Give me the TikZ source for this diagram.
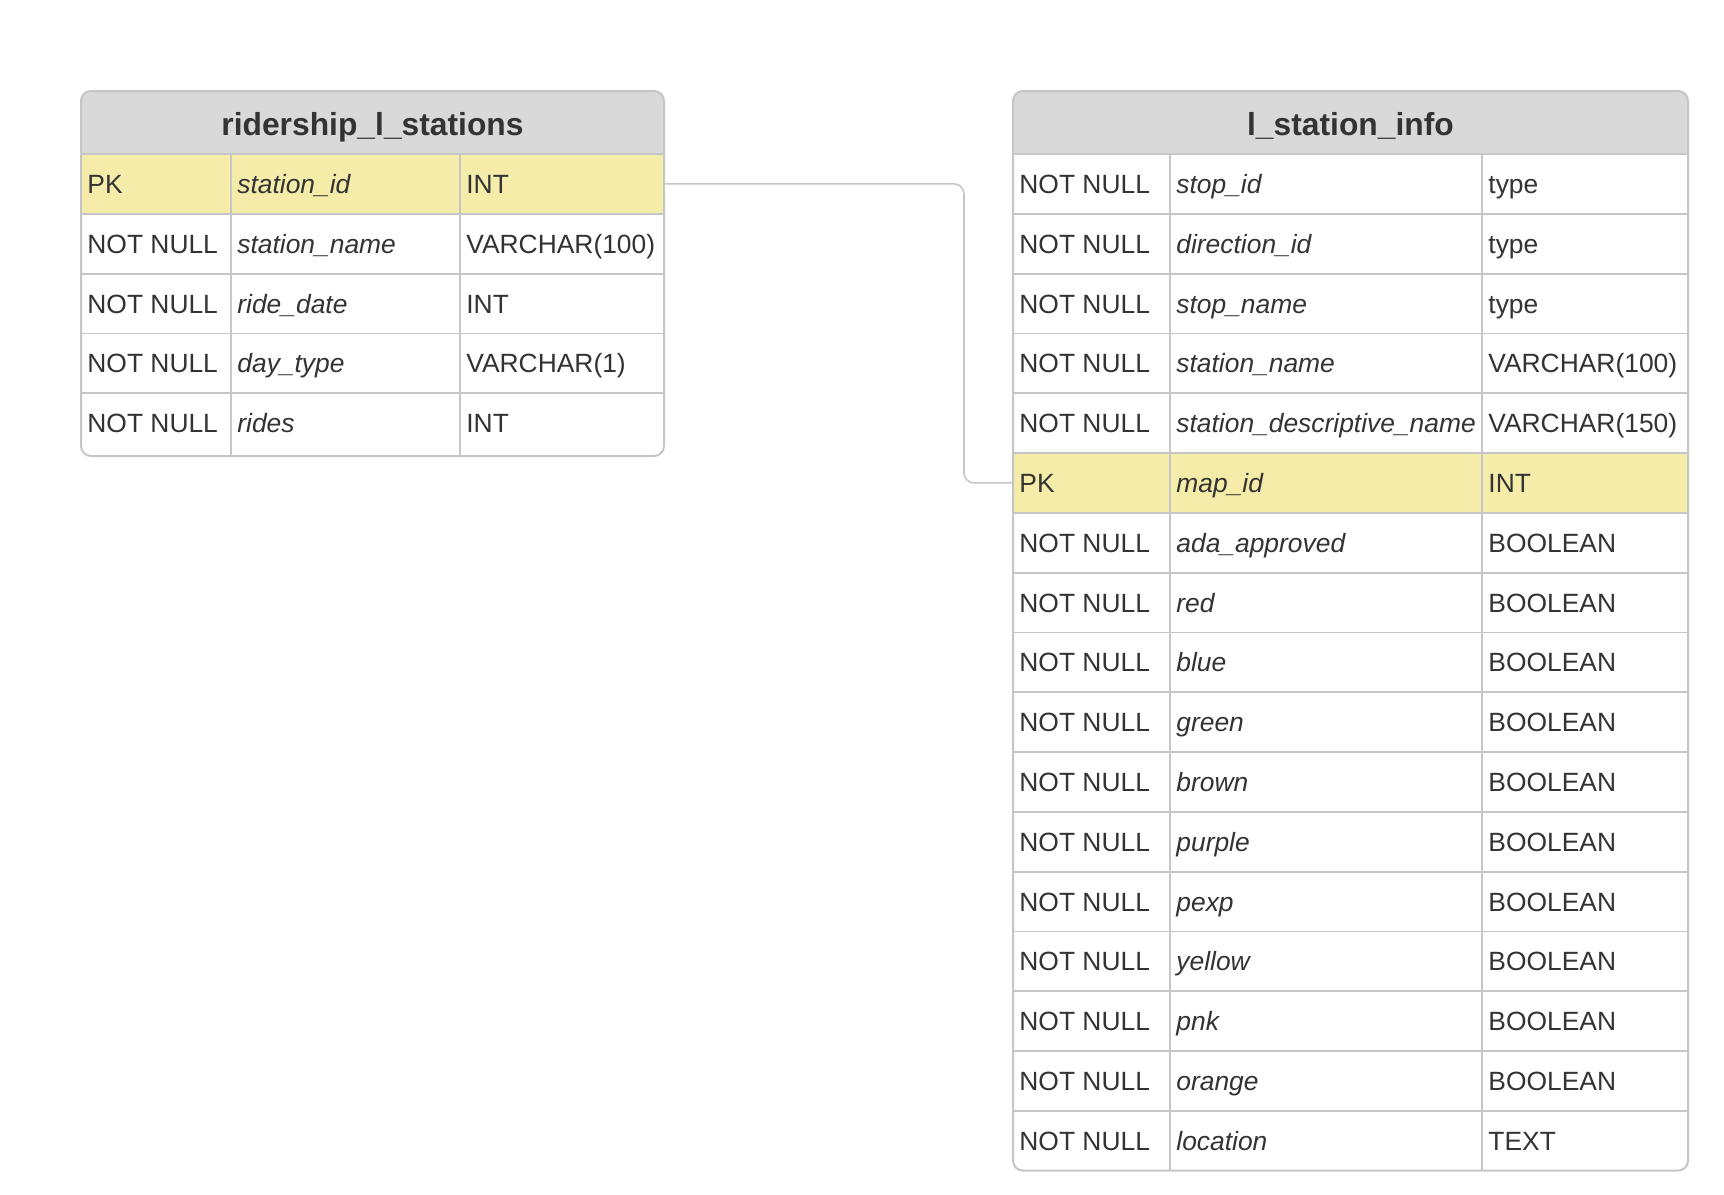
\documentclass[tikz,border=0pt]{standalone}
\usepackage{fontspec}
\setmainfont{Liberation Sans}
\usepackage{tikz}
\usepackage{xcolor}
\usetikzlibrary{positioning}
\definecolor{hdgray}{HTML}{D9D9D9}
\definecolor{pkyel}{HTML}{F5ECA9}
\definecolor{linegray}{HTML}{C6C6C6}
\definecolor{txt}{HTML}{333333}
\tikzset{
    tbl/.style={draw=linegray, line width=1pt, rounded corners=5pt},
    grid/.style={draw=linegray, line width=0.9pt},
    link/.style={draw=linegray, line width=0.8pt, rounded corners=5pt},
    rowbox/.style={minimum height=29.9pt, inner sep=0pt, outer sep=0pt},
    cell/.style={anchor=west, inner sep=3pt, text=txt, text height=9.5pt, text depth=0pt,
        font=\fontsize{13.2}{15}\selectfont},
    ttl/.style={text=txt, inner sep=0pt, text height=11.4pt, text depth=0pt,
        font=\fontsize{15.9}{18}\selectfont\bfseries}
}

\begin{document}
\begin{tikzpicture}[x=1pt, y=-1pt]
    \useasboundingbox (0,0) rectangle (862,597);
    % ridership table
    \begin{scope}
        \clip[rounded corners=5pt] (40.5,45.5) rectangle (332,228);
        \fill[hdgray] (40.5,45.5) rectangle (332,77);
    \end{scope}
    \node[ttl] (tl) at (186.25,61.8) {ridership\_l\_stations};
    \foreach \rf/\k/\cname/\ctype [count=\i] in {
            pkyel/PK/station\_id/INT,
            white/NOT NULL/station\_name/VARCHAR(100),
            white/NOT NULL/ride\_date/INT,
            white/NOT NULL/day\_type/VARCHAR(1),
            white/NOT NULL/rides/INT} {
        \node[rowbox, fill=\rf, minimum width=291.5pt] (rl-\i) at (186.25,{77+29.9*(\i-0.5)}) {};
        \node[cell] (rl-\i-k) at (40.5,{77+29.9*(\i-0.5)}) {\k};
        \node[cell] (rl-\i-n) at (115.5,{77+29.9*(\i-0.5)}) {\itshape\cname};
        \node[cell] (rl-\i-t) at (230,{77+29.9*(\i-0.5)}) {\ctype};
    }
    \draw[grid] (rl-1.north west) -- (rl-1.north east);
    \foreach \i in {1,...,4}
        \draw[grid] (rl-\i.south west) -- (rl-\i.south east);
    \draw[grid] (115.5,77) -- (115.5,228);
    \draw[grid] (230,77) -- (230,228);
    \draw[tbl] (40.5,45.5) rectangle (332,228);

    % station info table
    \begin{scope}
        \clip[rounded corners=5pt] (506.5,45.5) rectangle (844,585.3);
        \fill[hdgray] (506.5,45.5) rectangle (844,77);
    \end{scope}
    \node[ttl] (tr) at (675.25,61.8) {l\_station\_info};
    \foreach \rf/\k/\cname/\ctype [count=\i] in {
            white/NOT NULL/stop\_id/type,
            white/NOT NULL/direction\_id/type,
            white/NOT NULL/stop\_name/type,
            white/NOT NULL/station\_name/VARCHAR(100),
            white/NOT NULL/station\_descriptive\_name/VARCHAR(150),
            pkyel/PK/map\_id/INT,
            white/NOT NULL/ada\_approved/BOOLEAN,
            white/NOT NULL/red/BOOLEAN,
            white/NOT NULL/blue/BOOLEAN,
            white/NOT NULL/green/BOOLEAN,
            white/NOT NULL/brown/BOOLEAN,
            white/NOT NULL/purple/BOOLEAN,
            white/NOT NULL/pexp/BOOLEAN,
            white/NOT NULL/yellow/BOOLEAN,
            white/NOT NULL/pnk/BOOLEAN,
            white/NOT NULL/orange/BOOLEAN,
            white/NOT NULL/location/TEXT} {
        \node[rowbox, fill=\rf, minimum width=337.5pt] (rr-\i) at (675.25,{77+29.9*(\i-0.5)}) {};
        \node[cell] (rr-\i-k) at (506.5,{77+29.9*(\i-0.5)}) {\k};
        \node[cell] (rr-\i-n) at (585,{77+29.9*(\i-0.5)}) {\itshape\cname};
        \node[cell] (rr-\i-t) at (741,{77+29.9*(\i-0.5)}) {\ctype};
    }
    \draw[grid] (rr-1.north west) -- (rr-1.north east);
    \foreach \i in {1,...,16}
        \draw[grid] (rr-\i.south west) -- (rr-\i.south east);
    \draw[grid] (585,77) -- (585,585.3);
    \draw[grid] (741,77) -- (741,585.3);
    \draw[tbl] (506.5,45.5) rectangle (844,585.3);

    % relation
    \draw[link] (rl-1.east) -- ++(150,0) |- (rr-6.west);
\end{tikzpicture}
\end{document}
